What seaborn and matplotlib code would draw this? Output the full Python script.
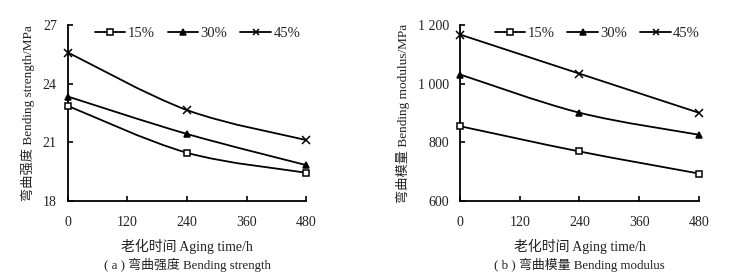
import numpy as np
import pandas as pd
import matplotlib
matplotlib.use("Agg")
import matplotlib.pyplot as plt
from matplotlib.path import Path
from matplotlib.patches import PathPatch
import seaborn as sns

aging_time = [0, 240, 480]
groups = ["15%", "30%", "45%"]
strength_15 = [22.86, 20.47, 19.45]
strength_30 = [23.34, 21.43, 19.84]
strength_45 = [25.59, 22.65, 21.12]
modulus_15 = [855, 769, 694]
modulus_30 = [1031, 901, 826]
modulus_45 = [1167, 1034, 901]

sns.set_style("ticks")
plt.rcParams["font.family"] = ["Liberation Serif", "Noto Sans CJK SC"]
plt.rcParams["axes.unicode_minus"] = False

markers = {"15%": "s", "30%": "^", "45%": "x"}
faces = {"15%": "white", "30%": "black", "45%": "black"}
msize = {"15%": 4.5, "30%": 5, "45%": 5.5}


def smooth_path(x, y):
    # Excel-style smoothed line (Catmull-Rom -> cubic Bezier), drawn as a path
    x = np.asarray(x, float)
    y = np.asarray(y, float)
    verts = [(x[0], y[0])]
    codes = [Path.MOVETO]
    n = len(x)
    for i in range(n - 1):
        p0 = (x[max(i - 1, 0)], y[max(i - 1, 0)])
        p1 = (x[i], y[i])
        p2 = (x[i + 1], y[i + 1])
        p3 = (x[min(i + 2, n - 1)], y[min(i + 2, n - 1)])
        c1 = (p1[0] + (p2[0] - p0[0]) / 6, p1[1] + (p2[1] - p0[1]) / 6)
        c2 = (p2[0] - (p3[0] - p1[0]) / 6, p2[1] - (p3[1] - p1[1]) / 6)
        verts += [c1, c2, p2]
        codes += [Path.CURVE4] * 3
    return Path(verts, codes)


def draw(ax, series, ylim, yticks, yticklabels, ylabel, caption, leg_x):
    df = pd.DataFrame({
        "time": aging_time * 3,
        "value": sum(series, []),
        "group": np.repeat(groups, 3),
    })
    for g, vals in zip(groups, series):
        ax.add_patch(PathPatch(smooth_path(aging_time, vals), fill=False,
                               lw=1.3, edgecolor="black", zorder=2))
    for g in groups:
        sub = df[df.group == g]
        sns.lineplot(data=sub, x="time", y="value", ax=ax, color="black",
                     marker=markers[g], markersize=msize[g],
                     markerfacecolor=faces[g], markeredgecolor="black",
                     markeredgewidth=1.1, linestyle="", clip_on=False,
                     zorder=3, legend=False)
    handles = [plt.Line2D([], [], color="black", lw=1.3, marker=markers[g],
                          markersize=msize[g] - 0.5, markerfacecolor=faces[g],
                          markeredgecolor="black", markeredgewidth=1.1)
               for g in groups]
    ax.legend(handles, groups, loc="center right", bbox_to_anchor=(leg_x, 0.95),
              ncol=3, frameon=False, fontsize=10.5, handlelength=2.1,
              handletextpad=0.15, columnspacing=0.9, borderaxespad=0,
              borderpad=0)
    ax.set_xlim(0, 480)
    ax.set_ylim(*ylim)
    ax.set_xticks([0, 120, 240, 360, 480])
    ax.set_yticks(yticks)
    ax.set_yticklabels(yticklabels)
    ax.tick_params(direction="in", length=3.5, width=1.2, labelsize=10,
                   color="black", labelcolor="#222222")
    ax.tick_params(axis="x", pad=11)
    ax.tick_params(axis="y", pad=8)
    for s in ["top", "right"]:
        ax.spines[s].set_visible(False)
    for s in ["left", "bottom"]:
        ax.spines[s].set_linewidth(1.3)
        ax.spines[s].set_color("black")
    ax.set_xlabel("老化时间 Aging time/h", fontsize=10, labelpad=7, color="#222222")
    ax.set_ylabel(ylabel, fontsize=9.5, labelpad=6, color="#222222")
    ax.text(0.5, -0.36, caption, transform=ax.transAxes, ha="center",
            va="center", fontsize=9.3, color="#222222")


fig = plt.figure(figsize=(7.34, 2.77), dpi=100)
ax1 = fig.add_axes([0.0926, 0.274, 0.3244, 0.636])
ax2 = fig.add_axes([0.627, 0.274, 0.325, 0.636])

draw(ax1, [strength_15, strength_30, strength_45], (18, 27), [18, 21, 24, 27],
     ["18", "21", "24", "27"], "弯曲强度 Bending strength/MPa",
     "( a ) 弯曲强度 Bending strength", 0.975)
draw(ax2, [modulus_15, modulus_30, modulus_45], (600, 1200),
     [600, 800, 1000, 1200], ["600", "800", "1 000", "1 200"],
     "弯曲模量 Bending modulus/MPa", "( b ) 弯曲模量 Bending modulus", 1.005)

fig.savefig("out.png", dpi=100)
